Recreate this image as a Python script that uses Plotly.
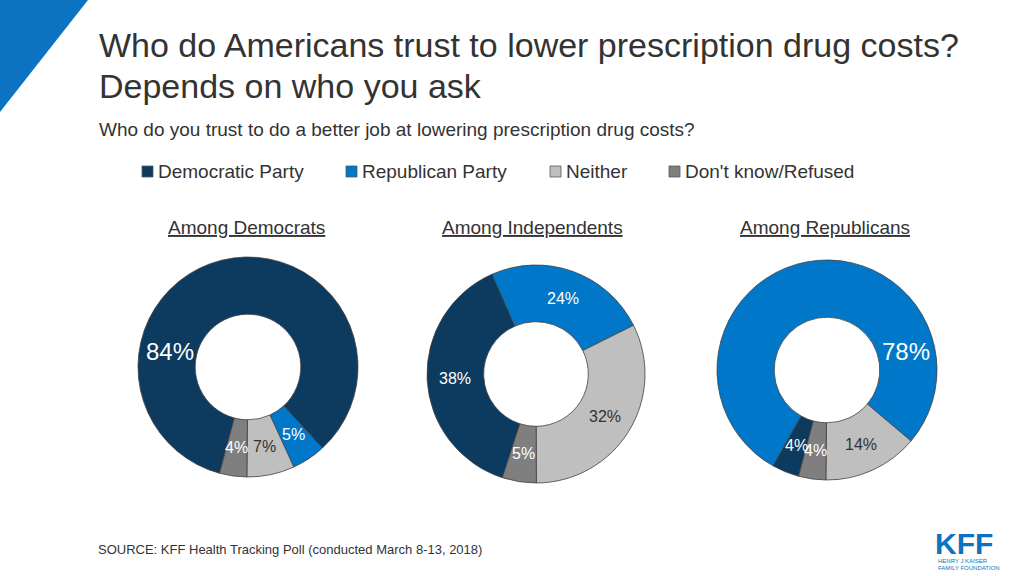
import math
import plotly.graph_objects as go

categories = ["Democratic Party", "Republican Party", "Neither", "Don't know/Refused"]
groups = ["Among Democrats", "Among Independents", "Among Republicans"]
dem_values = [84, 5, 7, 4]
ind_values = [38, 24, 32, 5]
rep_values = [4, 78, 14, 4]
colors = ["#0d3a5f", "#0077c8", "#bfbfbf", "#7f7f7f"]
text_colors = ["#ffffff", "#ffffff", "#333333", "#ffffff"]

W, H = 1024, 576
FONT = "Liberation Sans, Arial, Helvetica, sans-serif"
DARK = "#333333"
HOLE = 0.48

def px_dom(cx, cy, r):
    return dict(x=[(cx - r) / W, (cx + r) / W], y=[1 - (cy + r) / H, 1 - (cy - r) / H])

def px(x, y):
    return x / W, 1 - y / H

series = [dem_values, ind_values, rep_values]
centers = [(248, 367, 110), (536, 374, 109), (827, 370, 110)]
rotations = [195, 198, 195]
# the majority label sits on the side of the ring in the reference
big_label_pos = [(170, 351), None, (906, 351)]

fig = go.Figure()
for i, (vals, (cx, cy, r), rot, bpos) in enumerate(zip(series, centers, rotations, big_label_pos)):
    fig.add_trace(go.Pie(
        labels=categories, values=vals, sort=False, direction="clockwise",
        rotation=rot, hole=HOLE, domain=px_dom(cx, cy, r),
        marker=dict(colors=colors, line=dict(color="#404040", width=0.8)),
        textinfo="none", showlegend=False, hoverinfo="label+value",
    ))
    # data labels at the middle of each slice (mid angle, mid ring radius)
    total = sum(vals)
    start = rot
    rm = r * (1 + HOLE) / 2
    for v, tc in zip(vals, text_colors):
        span = v / total * 360
        mid = math.radians(start + span / 2)
        start += span
        if bpos is not None and v >= 70:
            lx, ly = bpos
            size = 24
        else:
            lx, ly = cx + rm * math.sin(mid), cy - rm * math.cos(mid)
            size = 16
        ax, ay = px(lx, ly)
        fig.add_annotation(x=ax, y=ay, xref="paper", yref="paper", xanchor="center", yanchor="middle",
                           text=f"{v}%", showarrow=False,
                           font=dict(size=size, family=FONT, color=tc))

# Decorative corner triangle
fig.add_shape(type="path", xref="paper", yref="paper",
              path=f"M 0 1 L {88/W} 1 L 0 {1-112/H} Z",
              fillcolor="#0b73c2", line=dict(width=0))

# Titles
for line, ly in [("Who do Americans trust to lower prescription drug costs?", 45),
                 ("Depends on who you ask", 86)]:
    x0, y0 = px(97, ly)
    fig.add_annotation(x=x0, y=y0, xref="paper", yref="paper", xanchor="left", yanchor="middle",
                       text=line, showarrow=False, align="left",
                       font=dict(size=34, family=FONT, color=DARK))
x0, y0 = px(97, 129)
fig.add_annotation(x=x0, y=y0, xref="paper", yref="paper", xanchor="left", yanchor="middle",
                   text="Who do you trust to do a better job at lowering prescription drug costs?",
                   showarrow=False, font=dict(size=19, family=FONT, color=DARK))

# Legend (swatch + label)
legend_x = [142, 346, 550, 669]
legend_y = 171
for cat, col, lx in zip(categories, colors, legend_x):
    fig.add_shape(type="rect", xref="paper", yref="paper",
                  x0=lx / W, x1=(lx + 11) / W, y0=1 - (legend_y + 6) / H, y1=1 - (legend_y - 5) / H,
                  fillcolor=col, line=dict(color="#595959", width=0.8))
    tx, ty = px(lx + 14, legend_y)
    fig.add_annotation(x=tx, y=ty, xref="paper", yref="paper", xanchor="left", yanchor="middle",
                       text=cat, showarrow=False, font=dict(size=19, family=FONT, color=DARK))

# Group titles
for g, gx in zip(groups, [246, 532, 825]):
    tx, ty = px(gx, 227)
    fig.add_annotation(x=tx, y=ty, xref="paper", yref="paper", xanchor="center", yanchor="middle",
                       text=f"<u>{g}</u>", showarrow=False, font=dict(size=19, family=FONT, color=DARK))

# Source
tx, ty = px(96, 549)
fig.add_annotation(x=tx, y=ty, xref="paper", yref="paper", xanchor="left", yanchor="middle",
                   text="SOURCE: KFF Health Tracking Poll (conducted March 8-13, 2018)",
                   showarrow=False, font=dict(size=13, family=FONT, color=DARK))

# KFF logo text
tx, ty = px(964, 543)
fig.add_annotation(x=tx, y=ty, xref="paper", yref="paper", xanchor="center", yanchor="middle",
                   text="<b>KFF</b>", showarrow=False,
                   font=dict(size=30, family="Liberation Sans Narrow, Liberation Sans, Arial", color="#0b73c2"))
for line, ly in [("HENRY J KAISER", 561), ("FAMILY FOUNDATION", 568)]:
    tx, ty = px(937, ly)
    fig.add_annotation(x=tx, y=ty, xref="paper", yref="paper", xanchor="left", yanchor="middle",
                       text=line, showarrow=False, borderpad=0,
                       font=dict(size=6, family="Liberation Sans Narrow, Liberation Sans, Arial", color="#0b73c2"))

fig.update_layout(
    width=W, height=H, margin=dict(l=0, r=0, t=0, b=0),
    paper_bgcolor="white", plot_bgcolor="white",
    showlegend=False,
)
fig.write_html("out.html", config={"displayModeBar": False},
               post_script="document.body.style.margin='0';document.body.style.overflow='hidden';")
